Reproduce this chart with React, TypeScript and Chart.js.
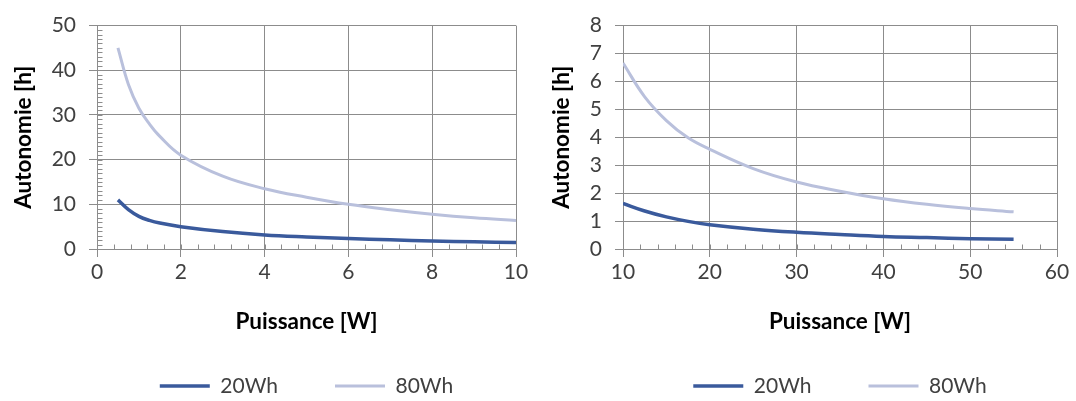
import { useEffect, useRef } from "react";
import { Chart, registerables } from "chart.js";

Chart.register(...registerables);

// ---------- data ----------
const seriesNames = ["20Wh", "80Wh"];
const xAxisTitle = "Puissance [W]";
const yAxisTitle = "Autonomie [h]";

const leftPower = [0.5, 0.75, 1, 1.25, 1.5, 2, 3, 4, 5, 6, 7, 8, 9, 10];
const left20Wh = [11, 8.8, 7.3, 6.4, 5.8, 5.0, 3.9, 3.15, 2.7, 2.35, 2.05, 1.8, 1.6, 1.45];
const left80Wh = [45, 36.8, 31.5, 28, 25.2, 21, 16.3, 13.5, 11.6, 10, 8.8, 7.8, 7.0, 6.4];

const rightPower = [10, 12.5, 15, 17.5, 20, 25, 30, 35, 40, 45, 50, 55];
const right20Wh = [1.63, 1.36, 1.15, 0.99, 0.87, 0.71, 0.6, 0.52, 0.45, 0.41, 0.37, 0.35];
const right80Wh = [6.66, 5.45, 4.6, 3.98, 3.57, 2.88, 2.4, 2.07, 1.8, 1.6, 1.45, 1.33];

const leftXRange = [0, 10, 2, 0.4]; // min, max, major step, minor step
const leftYRange = [0, 50, 10, 1];
const rightXRange = [10, 60, 10, 2];
const rightYRange = [0, 8, 1, 0];

// ---------- styles ----------
const FONT = "Lato, 'Open Sans', sans-serif";
const GRID = "#8c8c8c";
const COLOR_20 = "#3a5a9c";
const COLOR_80 = "#b9c0dc";

const minorTickPlugin = {
  id: "minorTicks",
  beforeDatasetsDraw(chart: any, _args: any, opts: any) {
    const { ctx, scales } = chart;
    const xs = scales.x;
    const ys = scales.y;
    const len = opts.length || 5;
    ctx.save();
    ctx.strokeStyle = opts.color || GRID;
    ctx.lineWidth = 1;
    const y0 = Math.round(ys.getPixelForValue(ys.min)) + 0.5;
    const x0 = Math.round(xs.getPixelForValue(xs.min)) + 0.5;
    if (opts.xStep) {
      const n = Math.round((xs.max - xs.min) / opts.xStep);
      for (let i = 1; i < n; i++) {
        const px = Math.round(xs.getPixelForValue(xs.min + i * opts.xStep)) + 0.5;
        ctx.beginPath();
        ctx.moveTo(px, y0);
        ctx.lineTo(px, y0 - len);
        ctx.stroke();
      }
    }
    if (opts.yStep) {
      const n = Math.round((ys.max - ys.min) / opts.yStep);
      for (let i = 1; i < n; i++) {
        const py = Math.round(ys.getPixelForValue(ys.min + i * opts.yStep)) + 0.5;
        ctx.beginPath();
        ctx.moveTo(x0, py);
        ctx.lineTo(x0 + len, py);
        ctx.stroke();
      }
    }
    ctx.restore();
  },
};

type PanelProps = {
  power: number[];
  s20: number[];
  s80: number[];
  xRange: number[];
  yRange: number[];
  yAxisWidth: number;
  padRight: number;
};

function Panel({ power, s20, s80, xRange, yRange, yAxisWidth, padRight }: PanelProps) {
  const ref = useRef<HTMLCanvasElement | null>(null);

  useEffect(() => {
    if (!ref.current) return;
    const chart = new Chart(ref.current, {
      type: "line",
      data: {
        datasets: [
          {
            label: seriesNames[0],
            data: power.map((x, i) => ({ x, y: s20[i] })),
            borderColor: COLOR_20,
            backgroundColor: COLOR_20,
            borderWidth: 3.5,
            pointRadius: 0,
            tension: 0.4,
          },
          {
            label: seriesNames[1],
            data: power.map((x, i) => ({ x, y: s80[i] })),
            borderColor: COLOR_80,
            backgroundColor: COLOR_80,
            borderWidth: 3,
            pointRadius: 0,
            tension: 0.4,
          },
        ],
      },
      options: {
        responsive: false,
        animation: false,
        devicePixelRatio: 1,
        layout: { padding: { top: 20, right: padRight, left: 0, bottom: 0 } },
        scales: {
          x: {
            type: "linear",
            min: xRange[0],
            max: xRange[1],
            ticks: {
              stepSize: xRange[2],
              color: "#404040",
              font: { family: FONT, size: 21 },
              padding: 3,
              maxRotation: 0,
              autoSkip: false,
            },
            grid: { color: GRID, tickLength: 8, tickColor: GRID },
            border: { color: GRID },
            title: {
              display: true,
              text: xAxisTitle,
              color: "#000",
              font: { family: FONT, size: 22.5, weight: "bold" },
              padding: { top: 0, bottom: -17 },
            },
            afterFit: (s: any) => {
              s.height = 69.5;
            },
          },
          y: {
            type: "linear",
            min: yRange[0],
            max: yRange[1],
            ticks: {
              stepSize: yRange[2],
              color: "#404040",
              font: { family: FONT, size: 21 },
              padding: 13,
              autoSkip: false,
            },
            grid: { color: GRID, tickLength: 8, tickColor: GRID },
            border: { color: GRID },
            title: {
              display: true,
              text: yAxisTitle,
              color: "#000",
              font: { family: FONT, size: 22.5, weight: "bold" },
              padding: { top: 10, bottom: 0 },
            },
            afterFit: (s: any) => {
              s.width = yAxisWidth;
            },
          },
        },
        plugins: {
          tooltip: { enabled: false },
          legend: {
            position: "bottom",
            fullSize: false,
            maxHeight: 82.5,
            labels: {
              usePointStyle: true,
              pointStyle: "line",
              pointStyleWidth: 50,
              padding: 57,
              color: "#404040",
              font: { family: FONT, size: 21 },
            },
          },
          minorTicks: { xStep: xRange[3], yStep: yRange[3], length: 5, color: GRID },
        } as any,
      } as any,
      plugins: [minorTickPlugin],
    });
    return () => chart.destroy();
  }, []);

  return <canvas ref={ref} width={538} height={401} style={{ width: 538, height: 401, display: "block" }} />;
}

export default function App() {
  return (
    <div
      style={{
        position: "absolute",
        left: 0,
        top: 0,
        width: 1076,
        height: 401,
        display: "flex",
        background: "#fff",
      }}
    >
      <Panel power={leftPower} s20={left20Wh} s80={left80Wh} xRange={leftXRange} yRange={leftYRange} yAxisWidth={97} padRight={22} />
      <Panel power={rightPower} s20={right20Wh} s80={right80Wh} xRange={rightXRange} yRange={rightYRange} yAxisWidth={85} padRight={19} />
    </div>
  );
}
